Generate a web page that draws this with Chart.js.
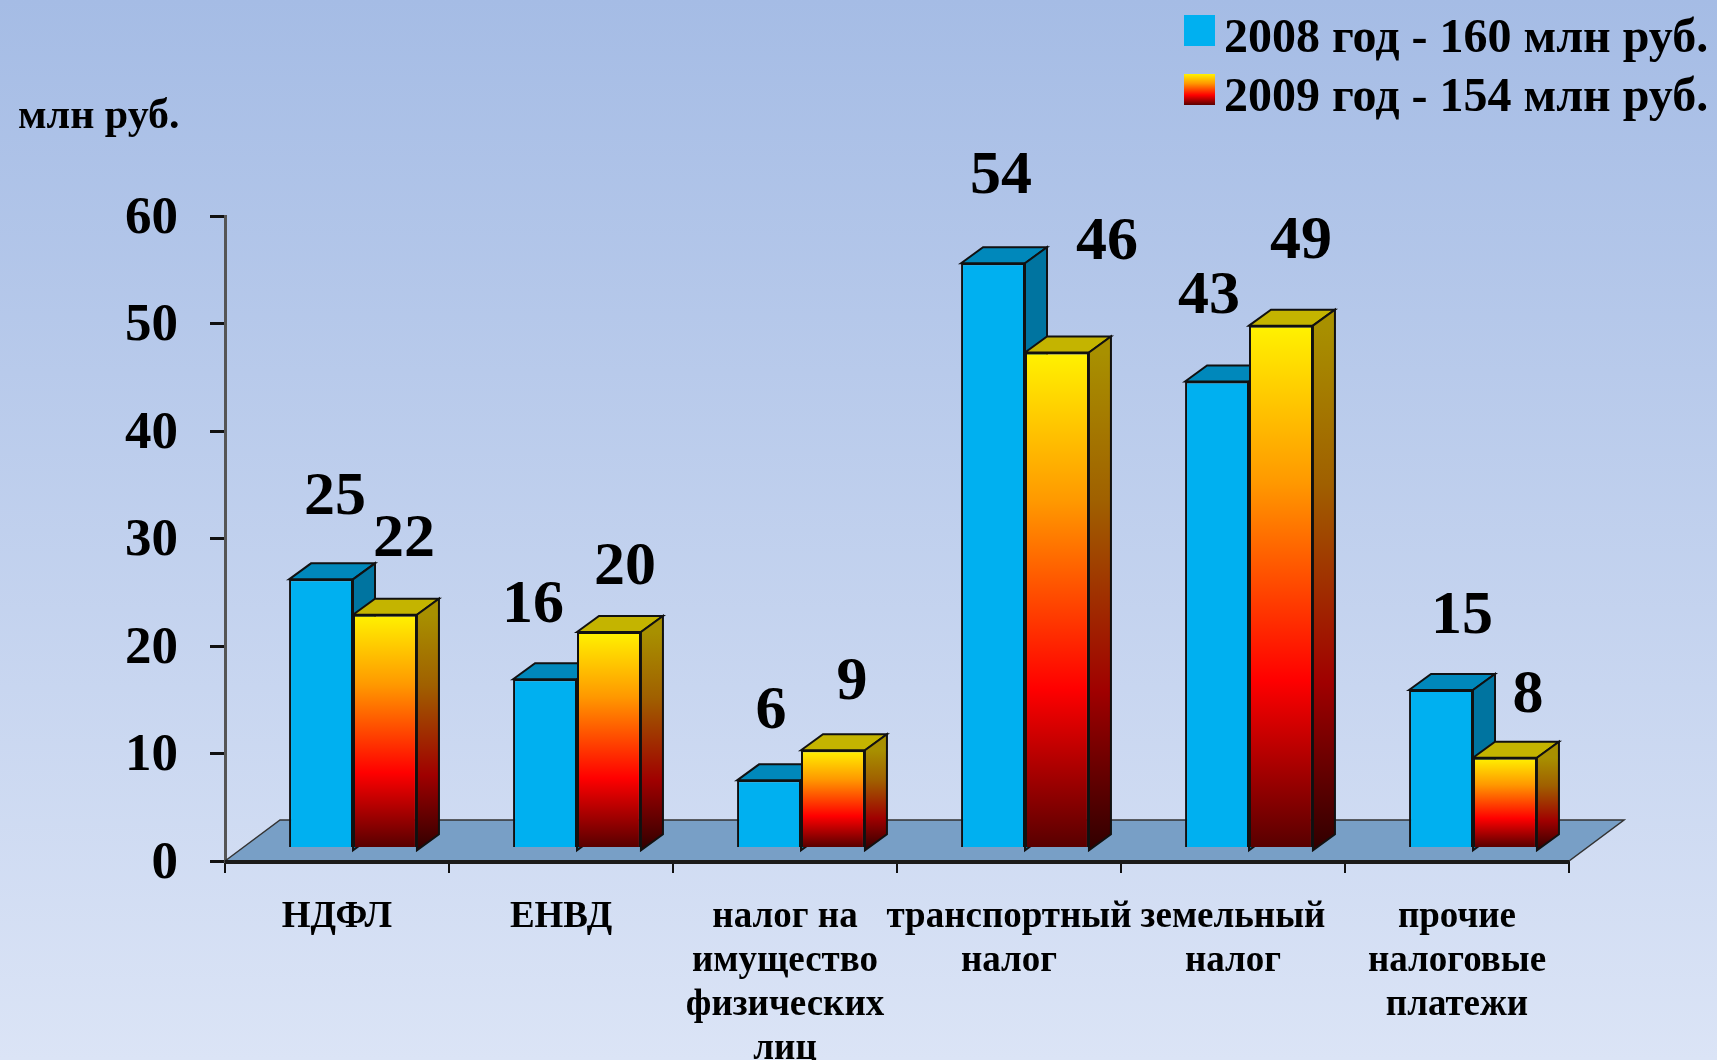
<!DOCTYPE html>
<html lang="ru">
<head>
    <meta charset="UTF-8">
    <title>Налоговые доходы</title>
    <script src="https://cdn.jsdelivr.net/npm/chart.js"></script>
    <style>
        html, body { margin: 0; padding: 0; }
        body { width: 1717px; height: 1060px; overflow: hidden; background: linear-gradient(to bottom, #a5bce5, #dbe4f6); }
        #wrap { position: relative; width: 1717px; height: 1060px; }
    </style>
</head>
<body>
    <div id="wrap"><canvas id="taxChart"></canvas></div>

    <script>
        const categories = [
            'НДФЛ',
            'ЕНВД',
            ['налог на', 'имущество', 'физических', 'лиц'],
            ['транспортный', 'налог'],
            ['земельный', 'налог'],
            ['прочие', 'налоговые', 'платежи']
        ];
        // bar heights; the printed labels are these, rounded
        const values2008 = [24.9, 15.6, 6.2, 54.3, 43.3, 14.6];
        const values2009 = [21.6, 20, 9, 46, 48.5, 8.3];
        const printed2008 = [25, 16, 6, 54, 43, 15];
        const printed2009 = [22, 20, 9, 46, 49, 8];
        const yTicks = [0, 10, 20, 30, 40, 50, 60];
        const seriesNames = ['2008 год - 160 млн руб.', '2009 год - 154 млн руб.'];
        const unitLabel = 'млн руб.';

        // where the value labels sit relative to the top of their bar (dx, dy)
        const labelOffsets2008 = [[14, -81], [-12, -73], [2, -68], [8, -86], [-8, -85], [21, -73]];
        const labelOffsets2009 = [[19, -75], [16, -64], [19, -67], [50, -110], [20, -84], [23, -62]];

        const SERIF = '"Liberation Serif", "Times New Roman", serif';
        const BAR_SHIFT = { x: 16, y: -14 };   // bars stand on the floor, not on the axis
        const BAR_DEPTH = { x: 22, y: -16 };
        const FLOOR_DEPTH = { x: 55, y: -41 };

        function fireGradient(ctx, top, bottom) {
            const g = ctx.createLinearGradient(0, top, 0, bottom);
            g.addColorStop(0, '#fff200');
            g.addColorStop(0.3, '#ff9900');
            g.addColorStop(0.68, '#ff0000');
            g.addColorStop(1, '#580000');
            return g;
        }

        function sideGradient(ctx, top, bottom) {
            const g = ctx.createLinearGradient(0, top, 0, bottom);
            g.addColorStop(0, '#a89000');
            g.addColorStop(0.3, '#a06000');
            g.addColorStop(0.68, '#a00000');
            g.addColorStop(1, '#300000');
            return g;
        }

        function face(ctx, pts, fill) {
            ctx.beginPath();
            pts.forEach((p, i) => i ? ctx.lineTo(p[0], p[1]) : ctx.moveTo(p[0], p[1]));
            ctx.closePath();
            ctx.fillStyle = fill;
            ctx.fill();
            ctx.lineWidth = 2;
            ctx.strokeStyle = '#111';
            ctx.stroke();
        }

        // floor, then the top and side faces behind the bars; bars get shifted onto the floor
        const box3d = {
            id: 'box3d',
            beforeDatasetsDraw(chart) {
                const ctx = chart.ctx;
                const a = chart.chartArea;
                ctx.save();
                ctx.beginPath();
                ctx.moveTo(a.left, a.bottom);
                ctx.lineTo(a.left + FLOOR_DEPTH.x, a.bottom + FLOOR_DEPTH.y);
                ctx.lineTo(a.right + FLOOR_DEPTH.x, a.bottom + FLOOR_DEPTH.y);
                ctx.lineTo(a.right, a.bottom);
                ctx.closePath();
                ctx.fillStyle = '#789fc6';
                ctx.fill();
                ctx.lineWidth = 1.5;
                ctx.strokeStyle = '#333';
                ctx.stroke();
                // the fill covers half of the axis line, put it back
                ctx.beginPath();
                ctx.moveTo(a.left, a.bottom + 1);
                ctx.lineTo(a.right, a.bottom + 1);
                ctx.lineWidth = 4;
                ctx.strokeStyle = '#1a1a1a';
                ctx.stroke();
                ctx.restore();

                ctx.save();
                ctx.translate(BAR_SHIFT.x, BAR_SHIFT.y);
                [0, 1].forEach(ds => {
                    chart.getDatasetMeta(ds).data.forEach(bar => {
                        const l = bar.x - bar.width / 2, r = bar.x + bar.width / 2;
                        const t = bar.y, b = bar.base;
                        const dx = BAR_DEPTH.x, dy = BAR_DEPTH.y;
                        face(ctx, [[l, t], [l + dx, t + dy], [r + dx, t + dy], [r, t]],
                            ds === 0 ? '#0088bb' : '#c4b400');
                        face(ctx, [[r, t], [r + dx, t + dy], [r + dx, b + dy], [r, b]],
                            ds === 0 ? '#0074a0' : sideGradient(ctx, t, b));
                    });
                });
            },
            afterDatasetsDraw(chart) {
                chart.ctx.restore();
            },
            afterDraw(chart) {
                const ctx = chart.ctx;
                ctx.save();
                ctx.fillStyle = '#000';
                ctx.textBaseline = 'middle';

                // value labels
                ctx.font = 'bold 62px ' + SERIF;
                ctx.textAlign = 'center';
                [printed2008, printed2009].forEach((printed, ds) => {
                    const offsets = ds === 0 ? labelOffsets2008 : labelOffsets2009;
                    chart.getDatasetMeta(ds).data.forEach((bar, i) => {
                        ctx.fillText(printed[i],
                            bar.x + BAR_SHIFT.x + offsets[i][0],
                            bar.y + BAR_SHIFT.y + offsets[i][1]);
                    });
                });

                // legend
                ctx.font = 'bold 48px ' + SERIF;
                ctx.textAlign = 'left';
                seriesNames.forEach((name, i) => {
                    const y = 15 + i * 59;
                    ctx.fillStyle = i === 0 ? '#00b0f0' : fireGradient(ctx, y, y + 31);
                    ctx.fillRect(1184, y, 31, 31);
                    ctx.fillStyle = '#000';
                    ctx.fillText(name, 1224, y + 25);
                });

                // unit label
                ctx.font = 'bold 42px ' + SERIF;
                ctx.fillText(unitLabel, 18, 117);
                ctx.restore();
            }
        };

        new Chart(document.getElementById('taxChart'), {
            type: 'bar',
            data: {
                labels: categories,
                datasets: [
                    {
                        label: seriesNames[0],
                        data: values2008,
                        base: -0.3,
                        backgroundColor: '#00b0f0',
                        borderColor: '#111',
                        borderWidth: 2,
                        borderSkipped: false
                    },
                    {
                        label: seriesNames[1],
                        data: values2009,
                        base: -0.3,
                        backgroundColor: (c) => {
                            const y = c.chart.scales.y;
                            if (!y || !Number.isFinite(c.raw)) return '#ff9900';
                            const top = y.getPixelForValue(c.raw), bottom = y.getPixelForValue(0);
                            if (!Number.isFinite(top) || !Number.isFinite(bottom)) return '#ff9900';
                            return fireGradient(c.chart.ctx, top, bottom);
                        },
                        borderColor: '#111',
                        borderWidth: 2,
                        borderSkipped: false
                    }
                ]
            },
            options: {
                responsive: true,
                maintainAspectRatio: false,
                animation: false,
                layout: { padding: { top: 216, right: 148, left: 0, bottom: 0 } },
                plugins: { legend: { display: false }, tooltip: { enabled: false } },
                datasets: { bar: { barPercentage: 1, categoryPercentage: 0.571 } },
                scales: {
                    x: {
                        afterFit: (s) => { s.height = 199; },
                        border: { color: '#111', width: 3 },
                        grid: { offset: true, drawOnChartArea: false, color: '#111', lineWidth: 2, tickLength: 12 },
                        ticks: {
                            color: '#000',
                            font: { family: SERIF, weight: 'bold', size: 37, lineHeight: 1.19 },
                            padding: 22,
                            maxRotation: 0,
                            autoSkip: false
                        }
                    },
                    y: {
                        min: 0,
                        max: 60,
                        afterFit: (s) => { s.width = 225; },
                        afterBuildTicks: (s) => { s.ticks = yTicks.map(v => ({ value: v })); },
                        border: { color: '#555', width: 3 },
                        grid: { drawOnChartArea: false, color: '#111', lineWidth: 3, tickLength: 15 },
                        ticks: {
                            color: '#000',
                            font: { family: SERIF, weight: 'bold', size: 53 },
                            padding: 32,
                            labelOffset: 3
                        }
                    }
                }
            },
            plugins: [box3d]
        });
    </script>
</body>
</html>
